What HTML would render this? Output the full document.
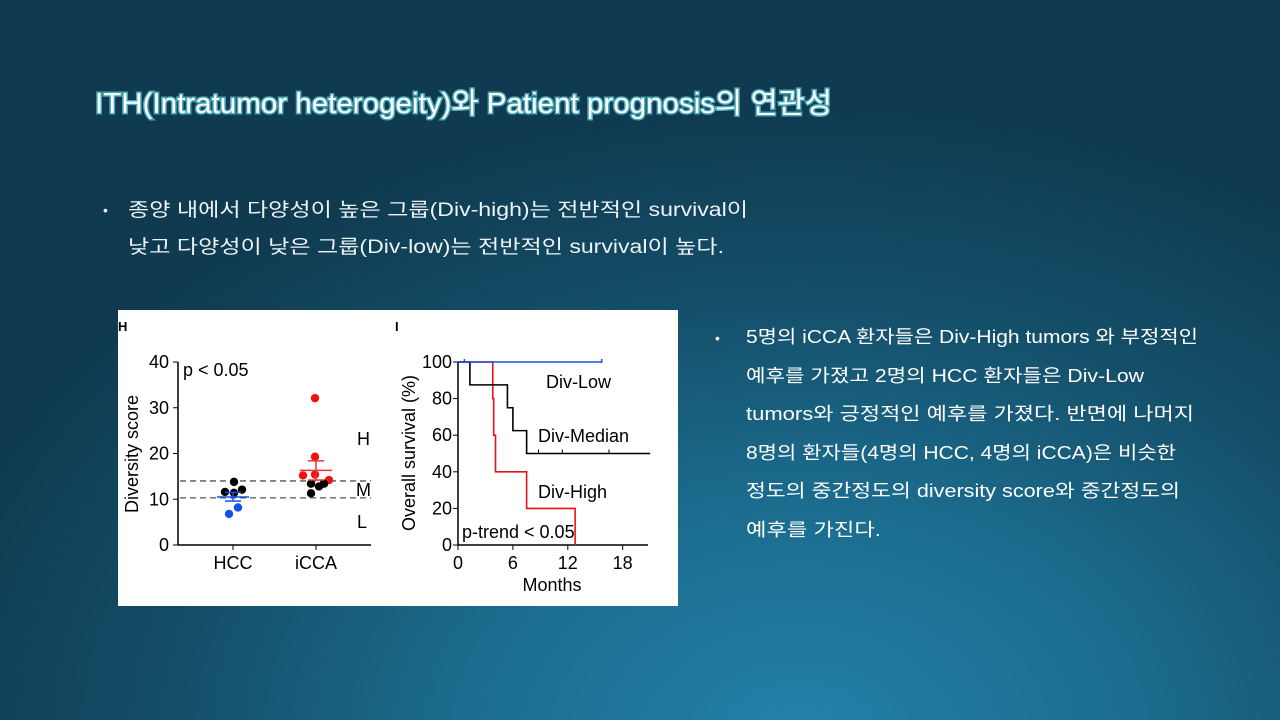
<!DOCTYPE html>
<html><head><meta charset="utf-8"><style>
html,body{margin:0;padding:0;width:1280px;height:720px;overflow:hidden}
body{background:radial-gradient(ellipse 900px 640px at 800px 740px,#2382aa 0%,#1b6a8c 40%,#144e68 70%,#0f3a50 100%);font-family:"Liberation Sans","Noto Sans CJK KR",sans-serif}
svg{position:absolute;left:0;top:0}
</style></head><body>
<svg width="1280" height="720" xmlns="http://www.w3.org/2000/svg" font-family="Liberation Sans, Noto Sans CJK KR, sans-serif">
<text x="95" y="113" font-size="29" fill="#fff" stroke="#4aa7b8" stroke-width="3" paint-order="stroke" textLength="737" lengthAdjust="spacingAndGlyphs">ITH(Intratumor heterogeity)와 Patient prognosis의 연관성</text>
<g fill="#eef3f6" font-size="19">
<text x="103" y="215" font-size="14">•</text>
<text x="128" y="216" textLength="620" lengthAdjust="spacingAndGlyphs">종양 내에서 다양성이 높은 그룹(Div-high)는 전반적인 survival이</text>
<text x="128" y="253" textLength="596" lengthAdjust="spacingAndGlyphs">낮고 다양성이 낮은 그룹(Div-low)는 전반적인 survival이 높다.</text>
</g>
<g fill="#fff" font-size="18">
<text x="715" y="343" font-size="14">•</text>
<text x="746" y="343" textLength="452" lengthAdjust="spacingAndGlyphs">5명의 iCCA 환자들은 Div-High tumors 와 부정적인</text>
<text x="746" y="382" textLength="398" lengthAdjust="spacingAndGlyphs">예후를 가졌고 2명의 HCC 환자들은 Div-Low</text>
<text x="746" y="420" textLength="448" lengthAdjust="spacingAndGlyphs">tumors와 긍정적인 예후를 가졌다. 반면에 나머지</text>
<text x="746" y="459" textLength="430" lengthAdjust="spacingAndGlyphs">8명의 환자들(4명의 HCC, 4명의 iCCA)은 비슷한</text>
<text x="746" y="497" textLength="434" lengthAdjust="spacingAndGlyphs">정도의 중간정도의 diversity score와 중간정도의</text>
<text x="746" y="536" textLength="135" lengthAdjust="spacingAndGlyphs">예후를 가진다.</text>
</g>
<rect x="118" y="310" width="560" height="296" fill="#fff"/>
<g id="fig" font-size="18" fill="#000"></g>
</svg>
<script>
// Panel H data
const hccBlack=[11.6,11.4,12.1,13.8];
const hccBlue=[6.8,8.2];
const iccaRed=[32.1,19.3,15.4,15.2,14.2];
const iccaBlack=[13.4,11.3,12.8,13.4];
const hccMean=[10.5,9.6,11.5];
const iccaMean=[16.3,14.2,18.4];
const thresholds=[14,10.3];
const yTicksH=[0,10,20,30,40];
// Panel I data
const lowT=[0,15.7], lowS=[100,100];
const medT=[0,1.3,5.4,6.0,7.5,21], medS=[100,87.5,75,62.5,50,50];
const highT=[0,3.8,3.9,4.1,7.5,12.8], highS=[100,80,60,40,20,0];
const medCensor=[8.8,11.4,16.5];
const xTicksI=[0,6,12,18], yTicksI=[0,20,40,60,80,100];

const NS='http://www.w3.org/2000/svg', g=document.getElementById('fig');
function mk(t,a,p){const e=document.createElementNS(NS,t);for(const k in a)e.setAttribute(k,a[k]);(p||g).appendChild(e);return e;}
function tx(s,a,p){const e=mk('text',a,p);e.textContent=s;return e;}
const yH=v=>545-v*183/40;
const hx=[233,316];
const ax=mk('g',{});


mk('line',{x1:178,y1:362,x2:178,y2:545,stroke:'#000','stroke-width':1.5},ax);
mk('line',{x1:178,y1:545,x2:371,y2:545,stroke:'#000','stroke-width':1.5},ax);
yTicksH.forEach(v=>{mk('line',{x1:173,x2:178,y1:yH(v),y2:yH(v),stroke:'#000'},ax);tx(v,{x:169,y:yH(v)+6,'text-anchor':'end'},ax);});
hx.forEach((x,i)=>{mk('line',{x1:x,x2:x,y1:545,y2:550,stroke:'#000'},ax);tx(['HCC','iCCA'][i],{x:x,y:569,'text-anchor':'middle'},ax);});
tx('H',{x:118,y:331,'font-size':13,'font-weight':'bold'});
tx('Diversity score',{transform:'translate(138,454) rotate(-90)','text-anchor':'middle'});
tx('p < 0.05',{x:183,y:376});
thresholds.forEach(v=>{const l=mk('line',{x1:180,x2:371,y1:yH(v),y2:yH(v),stroke:'#555','stroke-dasharray':'6 4','stroke-width':1.3});});
tx('H',{x:357,y:445});tx('M',{x:356,y:496});tx('L',{x:357,y:528});
function dots(vals,x0,col,offs){vals.forEach((v,i)=>{const c=mk('circle',{cx:x0+offs[i%offs.length],cy:yH(v),r:4.2,fill:col});});}
dots(hccBlack,233,'#000',[-8,1,9,1]);
dots(hccBlue,233,'#1450ee',[-4,5]);
dots(iccaRed,316,'#ee1111',[-1,-1,-1,-13,13]);
dots(iccaBlack,316,'#000',[-5,-5,3,8]);
function meanbar(m,x,col){mk('line',{x1:x-16,x2:x+16,y1:yH(m[0]),y2:yH(m[0]),stroke:col,'stroke-width':1.5});mk('line',{x1:x,x2:x,y1:yH(m[1]),y2:yH(m[2]),stroke:col,'stroke-width':1.5});[1,2].forEach(j=>mk('line',{x1:x-8,x2:x+8,y1:yH(m[j]),y2:yH(m[j]),stroke:col,'stroke-width':1.5}));}
meanbar(hccMean,233,'#1450ee');meanbar(iccaMean,316,'#ee3333');
const xI=t=>458+t*9.15, yI=s=>545-s*1.83;
const ai=mk('g',{});


mk('line',{x1:458,y1:362,x2:458,y2:545,stroke:'#000','stroke-width':1.5},ai);
mk('line',{x1:458,y1:545,x2:648,y2:545,stroke:'#000','stroke-width':1.5},ai);
yTicksI.forEach(v=>{mk('line',{x1:453,x2:458,y1:yI(v),y2:yI(v),stroke:'#000'},ai);tx(v,{x:452,y:yI(v)+6,'text-anchor':'end'},ai);});
xTicksI.forEach(v=>{mk('line',{x1:xI(v),x2:xI(v),y1:545,y2:550,stroke:'#000'},ai);tx(v,{x:xI(v),y:569,'text-anchor':'middle'},ai);});
tx('I',{x:395,y:331,'font-size':13,'font-weight':'bold'});
tx('Overall survival (%)',{transform:'translate(415,453) rotate(-90)','text-anchor':'middle'});
tx('Months',{x:552,y:591,'text-anchor':'middle'});
function step(T,S,col,name){let d='M'+xI(T[0])+','+yI(S[0]);for(let i=1;i<T.length;i++){d+='H'+xI(T[i])+'V'+yI(S[i]);}const p=mk('path',{d:d,fill:'none',stroke:col,'stroke-width':1.6});}
step(highT,highS,'#ee1111','div-high-curve');
step(medT,medS,'#000','div-median-curve');
step(lowT,lowS,'#1a4ff0','div-low-curve');
mk('line',{x1:xI(0.7),x2:xI(0.7),y1:yI(100)-3,y2:yI(100)+1,stroke:'#1a4ff0','stroke-width':1.5});
mk('line',{x1:xI(lowT[1]),x2:xI(lowT[1]),y1:yI(100)-3,y2:yI(100)+1,stroke:'#1a4ff0','stroke-width':1.5});
medCensor.forEach(t=>mk('line',{x1:xI(t),x2:xI(t),y1:yI(50)-4,y2:yI(50),stroke:'#000'}));
tx('Div-Low',{x:546,y:388});tx('Div-Median',{x:538,y:442});tx('Div-High',{x:538,y:498});
tx('p-trend < 0.05',{x:462,y:538});
</script>
</body></html>
